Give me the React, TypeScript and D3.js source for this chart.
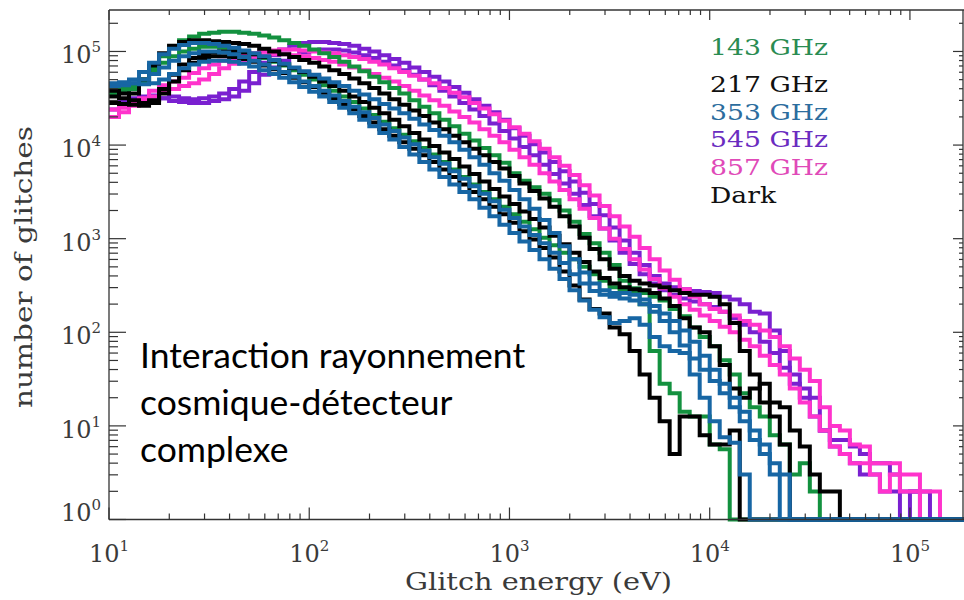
import React from 'react';
import * as d3 from 'd3';

// Histogram bins: log10(energy/eV) edges start at 1.0, width 0.05 dex
const BIN_START = 1.0;
const BIN_WIDTH = 0.05;
const N_BINS = 86;

// log10(number of glitches) per bin (missing bins beyond the array = empty)
const purple1 = [4.38,4.42,4.45,4.47,4.48,4.50,4.52,4.50,4.49,4.50,
 4.52,4.55,4.60,4.68,4.78,4.88,4.96,5.02,5.06,5.09,
 5.10,5.10,5.09,5.08,5.06,5.03,5.00,4.96,4.92,4.88,
 4.83,4.78,4.73,4.68,4.62,4.56,4.49,4.42,4.35,4.27,
 4.18,4.10,4.01,3.92,3.82,3.72,3.61,3.49,3.37,3.25,
 3.12,2.98,2.85,2.72,2.60,2.52,2.48,2.46,2.44,2.43,
 2.42,2.38,2.35,2.30,2.22,2.20,2.02,1.80,1.55,1.40,
 1.30,0.95,0.85,0.85,0.78,0.70,0.60,0.60,0.48,0.30,
 0.30,0.30];
const purple2 = [4.45,4.48,4.50,4.52,4.53,4.50,4.47,4.46,4.45,4.45,
 4.47,4.49,4.52,4.58,4.66,4.75,4.83,4.90,4.95,4.99,
 5.01,5.02,5.02,5.01,4.99,4.96,4.93,4.89,4.85,4.80,
 4.75,4.70,4.64,4.58,4.52,4.45,4.38,4.31,4.23,4.15,
 4.07,3.98,3.89,3.79,3.69,3.59,3.48,3.36,3.24,3.11,
 2.98,2.85,2.73,2.62,2.52,2.45,2.40,2.36,2.33,2.30,
 2.27,2.22,2.15,2.08,2.00,1.90,1.78,1.62,1.45,1.30,
 1.10,0.95,0.78,0.70,0.60,0.48,0.48,0.30,0.30,0.00,
 0.30];
const pink1 = [4.30,4.35,4.42,4.50,4.58,4.64,4.68,4.72,4.77,4.82,
 4.86,4.90,4.93,4.96,4.98,5.00,5.01,5.02,5.02,5.01,
 5.00,4.99,4.98,4.96,4.94,4.92,4.89,4.86,4.82,4.78,
 4.74,4.70,4.66,4.61,4.56,4.51,4.45,4.39,4.33,4.26,
 4.19,4.12,4.04,3.96,3.87,3.78,3.68,3.57,3.46,3.35,
 3.24,3.13,3.02,2.90,2.78,2.66,2.56,2.46,2.38,2.30,
 2.25,2.22,2.18,2.12,2.08,2.02,1.95,1.85,1.72,1.60,
 1.48,1.20,1.00,0.95,0.80,0.78,0.60,0.60,0.60,0.48,
 0.48,0.30,0.30];
const pink2 = [4.38,4.40,4.44,4.48,4.52,4.56,4.60,4.63,4.66,4.70,
 4.76,4.82,4.87,4.91,4.94,4.96,4.97,4.97,4.96,4.95,
 4.93,4.91,4.89,4.86,4.83,4.80,4.76,4.72,4.68,4.63,
 4.58,4.53,4.48,4.42,4.36,4.30,4.24,4.17,4.10,4.03,
 3.95,3.87,3.79,3.70,3.61,3.52,3.42,3.32,3.22,3.11,
 3.00,2.89,2.78,2.67,2.57,2.47,2.38,2.30,2.24,2.18,
 2.12,2.06,2.00,1.92,1.85,1.75,1.65,1.55,1.40,1.25,
 1.10,0.95,0.78,0.70,0.60,0.60,0.48,0.30,0.48,0.30,
 0.30];
const green1 = [4.62,4.60,4.62,4.70,4.82,4.95,5.05,5.12,5.16,5.19,
 5.20,5.21,5.21,5.20,5.19,5.17,5.15,5.12,5.09,5.06,
 5.02,4.98,4.94,4.89,4.84,4.79,4.73,4.67,4.61,4.55,
 4.48,4.41,4.34,4.27,4.20,4.12,4.05,3.97,3.89,3.81,
 3.70,3.62,3.55,3.48,3.41,3.30,3.18,3.05,2.95,2.85,
 2.72,2.55,2.47,2.42,2.38,2.34,2.25,2.17,2.05,1.95,
 1.85,1.70,1.55,1.35,1.20,1.10,0.90,0.80,0.48,0.60,
 0.30];
const green2 = [4.55,4.56,4.60,4.68,4.78,4.88,4.95,5.00,5.03,5.05,
 5.05,5.04,5.02,5.00,4.97,4.93,4.89,4.85,4.80,4.75,
 4.70,4.64,4.58,4.52,4.46,4.39,4.32,4.25,4.18,4.11,
 4.04,3.97,3.90,3.82,3.74,3.66,3.58,3.50,3.42,3.34,
 3.26,3.18,3.10,3.01,2.93,2.85,2.78,2.70,2.62,2.55,
 2.48,2.45,2.42,2.30,1.80,1.45,1.35,1.15,1.10,1.10,
 0.80,0.75];
const black1 = [4.52,4.50,4.55,4.70,4.85,4.98,5.06,5.10,5.12,5.12,
 5.11,5.10,5.09,5.08,5.06,5.03,5.00,4.97,4.94,4.91,
 4.88,4.84,4.80,4.76,4.71,4.66,4.61,4.55,4.49,4.43,
 4.37,4.31,4.24,4.17,4.10,4.03,3.96,3.89,3.82,3.75,
 3.67,3.59,3.51,3.43,3.34,3.24,3.13,3.01,2.89,2.78,
 2.68,2.60,2.55,2.52,2.50,2.48,2.45,2.42,2.40,2.40,
 2.38,2.30,2.10,1.80,1.55,1.25,1.25,1.20,0.95,0.78,
 0.48,0.30,0.30];
const black2 = [4.58,4.55,4.48,4.45,4.48,4.60,4.75,4.86,4.93,4.97,
 4.99,5.00,5.00,4.99,4.97,4.94,4.90,4.86,4.82,4.78,
 4.73,4.68,4.63,4.58,4.52,4.46,4.40,4.34,4.27,4.20,
 4.13,4.06,3.99,3.92,3.85,3.77,3.69,3.61,3.53,3.45,
 3.37,3.29,3.21,3.12,3.03,2.94,2.85,2.75,2.65,2.58,
 2.52,2.48,2.46,2.45,2.42,2.36,2.28,2.15,2.05,2.00,
 1.85,1.65,1.40,1.30,1.40,1.45,1.10,0.80];
const dark = [4.45,4.44,4.43,4.42,4.45,4.55,4.68,4.80,4.88,4.93,
 4.95,4.95,4.94,4.92,4.89,4.85,4.81,4.77,4.72,4.67,
 4.62,4.56,4.50,4.44,4.38,4.31,4.24,4.17,4.10,4.03,
 3.96,3.89,3.82,3.74,3.66,3.58,3.50,3.42,3.34,3.26,
 3.17,3.08,2.99,2.90,2.80,2.65,2.50,2.35,2.25,2.20,
 2.05,1.98,1.80,1.55,1.30,1.05,0.70,1.10,1.10,0.90,
 0.80,0.80,0.95];
const blue1 = [4.65,4.66,4.70,4.78,4.88,4.97,5.03,5.07,5.09,5.09,
 5.08,5.06,5.04,5.01,4.98,4.95,4.91,4.87,4.83,4.79,
 4.75,4.71,4.67,4.63,4.58,4.54,4.49,4.44,4.39,4.34,
 4.28,4.22,4.16,4.10,4.03,3.95,3.87,3.79,3.70,3.62,
 3.52,3.42,3.32,3.20,3.06,2.92,2.78,2.64,2.52,2.45,
 2.42,2.42,2.40,2.35,2.28,2.20,2.12,2.02,1.90,1.75,
 1.60,1.45,1.30,1.15,0.95,0.80,0.60,0.48];
const blue2 = [4.63,4.64,4.66,4.70,4.76,4.83,4.90,4.95,4.98,5.00,
 5.00,4.99,4.97,4.94,4.90,4.86,4.82,4.78,4.73,4.68,
 4.63,4.58,4.53,4.47,4.41,4.35,4.29,4.22,4.15,4.08,
 4.01,3.94,3.87,3.80,3.72,3.64,3.56,3.48,3.40,3.31,
 3.22,3.13,3.04,2.95,2.85,2.74,2.62,2.52,2.44,2.40,
 2.38,2.36,2.34,2.30,2.22,2.12,2.00,1.86,1.72,1.60,
 1.48,1.35,1.20,1.05,0.85,0.70,0.48];
const blue3 = [4.66,4.67,4.66,4.65,4.66,4.70,4.76,4.82,4.86,4.89,
 4.90,4.90,4.89,4.87,4.84,4.80,4.76,4.72,4.67,4.62,
 4.57,4.52,4.46,4.40,4.34,4.27,4.20,4.13,4.06,3.98,
 3.90,3.82,3.74,3.66,3.58,3.50,3.42,3.33,3.24,3.15,
 3.06,2.97,2.88,2.78,2.68,2.57,2.45,2.34,2.24,2.16,
 2.10,2.12,2.15,2.08,1.95,1.85,1.80,1.78,1.55,1.30,
 1.05,0.88,0.82,0.48];

const C_GREEN = '#13913f';
const C_BLACK = '#000000';
const C_BLUE = '#1766a4';
const C_PURPLE = '#7a20d0';
const C_PINK = '#ff33cc';

const seriesList = [
  { values: purple1, color: C_PURPLE },
  { values: purple2, color: C_PURPLE },
  { values: pink1, color: C_PINK },
  { values: pink2, color: C_PINK },
  { values: green1, color: C_GREEN },
  { values: green2, color: C_GREEN },
  { values: black1, color: C_BLACK },
  { values: black2, color: C_BLACK },
  { values: dark, color: C_BLACK },
  { values: blue1, color: C_BLUE },
  { values: blue2, color: C_BLUE },
  { values: blue3, color: C_BLUE },
];

const legendLabels = ['143 GHz', '217 GHz', '353 GHz', '545 GHz', '857 GHz', 'Dark'];
const legendColors = ['#2a8c52', '#111111', '#2c6d9e', '#6a2cc0', '#e04ab8', '#111111'];
const legendBaselines = [55, 92, 120, 147, 175, 203];
const legendWidths = [118, 118, 118, 118, 118, 66];

const xTickExps = [1, 2, 3, 4, 5];
const yTickExps = [0, 1, 2, 3, 4, 5];

const annotationLines = ['Interaction rayonnement', 'cosmique-détecteur', 'complexe'];

const W = 964, H = 600;
const L = 109, R = 963, T = 10, B = 519.5;

export default function App() {
  const x = d3.scaleLog().domain([10, Math.pow(10, 5.265)]).range([L, R]);
  const y = d3.scaleLog().domain([1, Math.pow(10, 5.443)]).range([B, T]);

  const line = d3.line<[number, number]>()
    .x(d => x(d[0]))
    .y(d => (d[1] <= 1 ? B : y(d[1])))
    .curve(d3.curveStepAfter);

  const pathFor = (vals: number[]) => {
    const pts: [number, number][] = [];
    for (let i = 0; i < N_BINS; i++) {
      const e = Math.pow(10, BIN_START + i * BIN_WIDTH);
      const v = i < vals.length ? Math.pow(10, vals[i]) : 0;
      pts.push([e, v]);
    }
    pts.push([Math.pow(10, BIN_START + N_BINS * BIN_WIDTH), pts[pts.length - 1][1]]);
    return line(pts) || '';
  };

  const xTicks = x.ticks();
  const yTicks = y.ticks();
  const isMajor = (v: number) => Math.abs(Math.log10(v) - Math.round(Math.log10(v))) < 1e-6;

  const serif = "'DejaVu Serif', serif";
  const labelFill = '#3a3a3a';

  return (
    <svg width={W} height={H} style={{ position: 'absolute', left: 0, top: 0, background: '#fff' }}
      xmlns="http://www.w3.org/2000/svg">
      <rect x={0} y={0} width={W} height={H} fill="#fff" />
      <defs>
        <clipPath id="plotclip">
          <rect x={L - 3} y={T} width={W - L + 3} height={B - T + 4} />
        </clipPath>
      </defs>

      <g clipPath="url(#plotclip)" fill="none" strokeWidth={4} strokeLinejoin="miter" strokeLinecap="butt">
        {seriesList.map((s, i) => (
          <path key={i} d={pathFor(s.values)} stroke={s.color} />
        ))}
      </g>

      {/* frame */}
      <g stroke="#333" strokeWidth={1.3} fill="none">
        <line x1={L} y1={T} x2={L} y2={B} />
        <line x1={L} y1={T} x2={W} y2={T} />
        <line x1={L} y1={B} x2={W} y2={B} />
        <line x1={R} y1={T} x2={R} y2={B} />
      </g>

      {/* x ticks */}
      <g stroke="#333" strokeWidth={1.2}>
        {xTicks.filter(t => x(t) >= L && x(t) <= R).map((t, i) => {
          const maj = isMajor(t);
          const xv = x(t);
          return (
            <g key={i}>
              <line x1={xv} x2={xv} y1={B} y2={B - (maj ? 12 : 6)} />
              <line x1={xv} x2={xv} y1={T} y2={T + (maj ? 10 : 5)} />
            </g>
          );
        })}
      </g>

      {/* y ticks */}
      <g stroke="#333" strokeWidth={1.2}>
        {yTicks.filter(t => y(t) >= T && y(t) <= B).map((t, i) => {
          const maj = isMajor(t);
          const yv = y(t);
          return (
            <g key={i}>
              <line x1={L} x2={L + (maj ? 17 : 9)} y1={yv} y2={yv} />
              <line x1={R} x2={R - (maj ? 10 : 4)} y1={yv} y2={yv} />
            </g>
          );
        })}
      </g>

      {/* x tick labels */}
      <g fontFamily={serif} fill={labelFill}>
        {xTickExps.map(e => (
          <text key={e} x={x(Math.pow(10, e))} y={562} textAnchor="middle" fontSize={24}>
            10<tspan dy={-11} fontSize={15}>{e}</tspan>
          </text>
        ))}
      </g>

      {/* y tick labels */}
      <g fontFamily={serif} fill={labelFill}>
        {yTickExps.map(e => (
          <text key={e} x={101} y={y(Math.pow(10, e)) + (e === 0 ? 1 : 12)} textAnchor="end" fontSize={24}>
            10<tspan dy={-11} fontSize={15}>{e}</tspan>
          </text>
        ))}
      </g>

      {/* axis titles */}
      <text x={405} y={590} textLength={267} lengthAdjust="spacingAndGlyphs" fontFamily={serif} fontSize={25} fill={labelFill}>
        Glitch energy (eV)
      </text>
      <text transform="translate(32,408) rotate(-90)" textLength={282} lengthAdjust="spacingAndGlyphs" fontFamily={serif} fontSize={25} fill={labelFill}>
        number of glitches
      </text>

      {/* legend */}
      <g fontFamily={serif} fontSize={22.5}>
        {legendLabels.map((lab, i) => (
          <text key={lab} x={710} y={legendBaselines[i]} fill={legendColors[i]}
            textLength={legendWidths[i]} lengthAdjust="spacingAndGlyphs">{lab}</text>
        ))}
      </g>

      {/* annotation */}
      <g fontFamily="Lato, 'Open Sans', sans-serif" fontSize={35.5} fill="#000">
        {annotationLines.map((t, i) => (
          <text key={i} x={140} y={368 + i * 47}>{t}</text>
        ))}
      </g>
    </svg>
  );
}
